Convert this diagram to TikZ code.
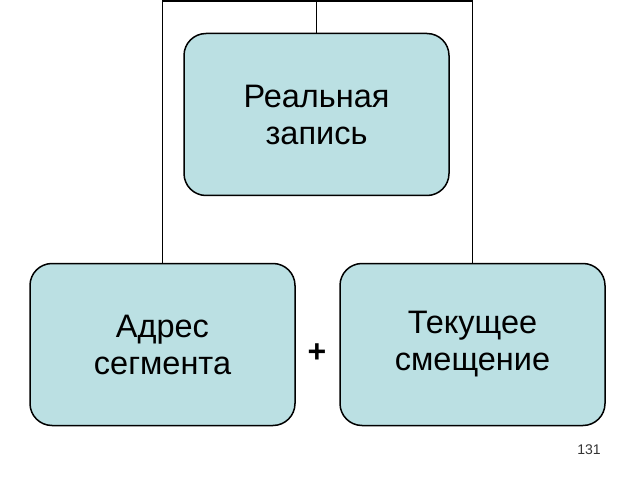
\documentclass[tikz,border=0pt]{standalone}
\usepackage{fontspec}
\setmainfont{Liberation Sans}
\definecolor{boxfill}{RGB}{187,224,227}
\begin{document}
\begin{tikzpicture}[
    x=1pt, y=1pt,
    part box/.style={
        rectangle,
        rounded corners=22pt,
        draw=black,
        fill=boxfill,
        line width=1.5pt,
        minimum width=265pt,
        minimum height=162pt,
        align=center,
        inner sep=0pt,
        font=\fontsize{32.5}{37}\selectfont
    },
    link/.style={
        black,
        line width=1.3pt
    }
]

\useasboundingbox (0,0) rectangle (640,480);

%% --- Блоки ---
\node[part box] (real)    at (316.5, 365.5) {Реальная\\запись};
\node[part box] (segaddr) at (162.5, 135.5) {Адрес\\сегмента};
\node[part box] (offset)  at (472.5, 135.5) {Текущее\\смещение};

%% --- Связи ---
\coordinate (topbar) at (316.5, 479);
\draw[link] (segaddr.north) |- (topbar) -| (offset.north);
\draw[link] (real.north) -- (real.north |- topbar);

%% --- Подписи ---
\node[font=\fontsize{32}{34}\selectfont\bfseries] (plus) at (317, 127) {+};
\node[font=\fontsize{14}{16}\selectfont, text=black!80] (pagenum) at (589, 30) {131};

\end{tikzpicture}
\end{document}
